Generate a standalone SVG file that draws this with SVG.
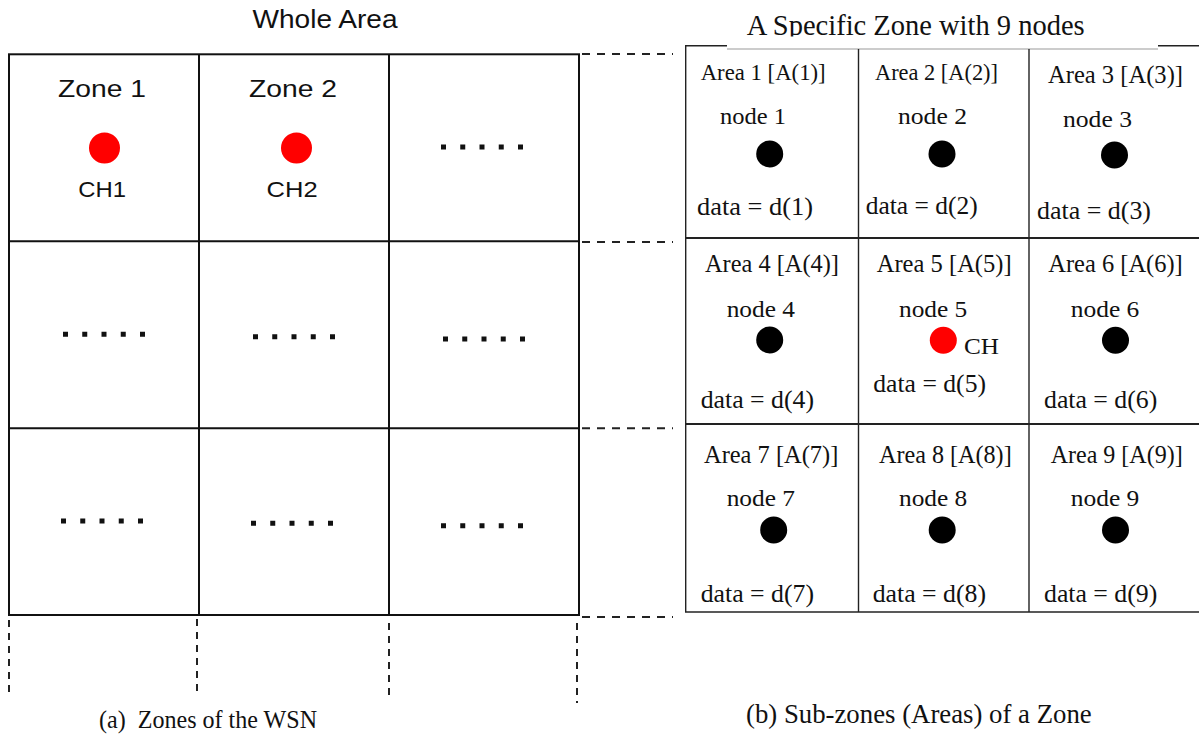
<svg xmlns="http://www.w3.org/2000/svg" width="1199" height="736" viewBox="0 0 1199 736">
  <style>
    .sans { font-family: "Liberation Sans", Arial, sans-serif; fill: #111; }
    .serif { font-family: "Liberation Serif", "Times New Roman", serif; fill: #111; }
    .grid { stroke: #111; stroke-width: 2; fill: none; }
    .sub { stroke: #222; stroke-width: 1.4; fill: none; }
    .subrow { stroke: #222; stroke-width: 2; fill: none; }
    .link { stroke: #222; stroke-width: 2; stroke-dasharray: 8 7; fill: none; }
    .drop { stroke: #222; stroke-width: 2; stroke-dasharray: 7 6; fill: none; }
    .dots { stroke: #111; stroke-width: 5; stroke-dasharray: 5 14.25; fill: none; }
    .ch { fill: #ff0000; }
    .sensor { fill: #000; }
  </style>
  <defs>
    <clipPath id="titleClip">
      <rect x="700" y="0" width="450" height="36.5"/>
    </clipPath>
  </defs>
  <rect width="1199" height="736" fill="#fff"/>

  <!-- (a) whole area split into zones -->
  <text class="sans" x="252.5" y="28.3" font-size="26" textLength="145" lengthAdjust="spacingAndGlyphs">Whole Area</text>
  <g id="zone-grid">
    <rect class="grid" x="9" y="54.3" width="570" height="560.7"/>
    <line class="grid" x1="199" y1="54.3" x2="199" y2="615"/>
    <line class="grid" x1="389" y1="54.3" x2="389" y2="615"/>
    <line class="grid" x1="9" y1="241.2" x2="579" y2="241.2"/>
    <line class="grid" x1="9" y1="428.3" x2="579" y2="428.3"/>
  </g>
  <g id="zone1">
    <text class="sans" x="58" y="96.5" font-size="24" textLength="88" lengthAdjust="spacingAndGlyphs">Zone 1</text>
    <circle class="ch" cx="104.5" cy="148" r="15.5"/>
    <text class="sans" x="78.3" y="197" font-size="22" textLength="47.7" lengthAdjust="spacingAndGlyphs">CH1</text>
  </g>
  <g id="zone2">
    <text class="sans" x="249" y="96.5" font-size="24" textLength="88" lengthAdjust="spacingAndGlyphs">Zone 2</text>
    <circle class="ch" cx="296.5" cy="148" r="15.5"/>
    <text class="sans" x="266.6" y="197" font-size="22" textLength="51" lengthAdjust="spacingAndGlyphs">CH2</text>
  </g>
  <g id="zone3"><line class="dots" x1="441" y1="147" x2="523" y2="147"/></g>
  <g id="zone4"><line class="dots" x1="63" y1="334.3" x2="145" y2="334.3"/></g>
  <g id="zone5"><line class="dots" x1="253" y1="336.7" x2="335" y2="336.7"/></g>
  <g id="zone6"><line class="dots" x1="443" y1="339" x2="525" y2="339"/></g>
  <g id="zone7"><line class="dots" x1="61" y1="521" x2="143" y2="521"/></g>
  <g id="zone8"><line class="dots" x1="251" y1="523.3" x2="333" y2="523.3"/></g>
  <g id="zone9"><line class="dots" x1="441" y1="525.7" x2="523" y2="525.7"/></g>
  <text class="serif" x="99" y="728.3" font-size="25.5" textLength="218" lengthAdjust="spacingAndGlyphs" xml:space="preserve">(a)  Zones of the WSN</text>

  <!-- dashed guide lines -->
  <g id="connectors">
    <line class="link" x1="582" y1="54" x2="673" y2="54"/>
    <line class="link" x1="582" y1="242" x2="673" y2="242"/>
    <line class="link" x1="582" y1="428.3" x2="673" y2="428.3"/>
    <line class="link" x1="582" y1="617" x2="673" y2="617"/>
    <line class="drop" x1="9" y1="620" x2="9" y2="693"/>
    <line class="drop" x1="197" y1="619" x2="197" y2="696"/>
    <line class="drop" x1="389" y1="623" x2="389" y2="700"/>
    <line class="drop" x1="577" y1="623" x2="577" y2="703"/>
  </g>

  <!-- (b) one zone split into nine areas -->
  <text class="serif" x="746.7" y="35" font-size="28.5" textLength="338" lengthAdjust="spacingAndGlyphs" clip-path="url(#titleClip)">A Specific Zone with 9 nodes</text>
  <g id="area-grid">
    <line class="sub" x1="685" y1="45.7" x2="727" y2="45.7"/>
    <line class="sub" x1="1158" y1="45.7" x2="1199" y2="45.7"/>
    <line stroke="#999" stroke-width="1" x1="727" y1="49" x2="1158" y2="49"/>
    <line class="sub" x1="685.7" y1="45" x2="685.7" y2="612"/>
    <line class="sub" x1="858.5" y1="49" x2="858.5" y2="612"/>
    <line class="sub" x1="1029" y1="49" x2="1029" y2="612"/>
    <line class="subrow" x1="685" y1="238" x2="1199" y2="238"/>
    <line class="subrow" x1="685" y1="424" x2="1199" y2="424"/>
    <line class="sub" x1="685" y1="612" x2="1199" y2="612"/>
  </g>

  <g id="area1">
    <text class="serif" x="700.7" y="80" font-size="23" textLength="125" lengthAdjust="spacingAndGlyphs">Area 1 [A(1)]</text>
    <text class="serif" x="720" y="124" font-size="24" textLength="66" lengthAdjust="spacingAndGlyphs">node 1</text>
    <circle class="sensor" cx="769.7" cy="154" r="13.5"/>
    <text class="serif" x="697" y="215" font-size="26" textLength="116" lengthAdjust="spacingAndGlyphs">data = d(1)</text>
  </g>
  <g id="area2">
    <text class="serif" x="875" y="80" font-size="23" textLength="123" lengthAdjust="spacingAndGlyphs">Area 2 [A(2)]</text>
    <text class="serif" x="898" y="124" font-size="24" textLength="69" lengthAdjust="spacingAndGlyphs">node 2</text>
    <circle class="sensor" cx="942" cy="154" r="13.5"/>
    <text class="serif" x="865.7" y="214.3" font-size="26" textLength="112" lengthAdjust="spacingAndGlyphs">data = d(2)</text>
  </g>
  <g id="area3">
    <text class="serif" x="1048" y="82.7" font-size="24.5" textLength="135" lengthAdjust="spacingAndGlyphs">Area 3 [A(3)]</text>
    <text class="serif" x="1063" y="127" font-size="24" textLength="69" lengthAdjust="spacingAndGlyphs">node 3</text>
    <circle class="sensor" cx="1114.5" cy="155" r="13.5"/>
    <text class="serif" x="1037" y="219.3" font-size="26" textLength="114" lengthAdjust="spacingAndGlyphs">data = d(3)</text>
  </g>
  <g id="area4">
    <text class="serif" x="705" y="271.7" font-size="24.5" textLength="134" lengthAdjust="spacingAndGlyphs">Area 4 [A(4)]</text>
    <text class="serif" x="726.7" y="317.3" font-size="24" textLength="68.3" lengthAdjust="spacingAndGlyphs">node 4</text>
    <circle class="sensor" cx="769.7" cy="340" r="13.5"/>
    <text class="serif" x="700.7" y="408.3" font-size="26" textLength="113.3" lengthAdjust="spacingAndGlyphs">data = d(4)</text>
  </g>
  <g id="area5">
    <text class="serif" x="876.7" y="271.7" font-size="24.5" textLength="135" lengthAdjust="spacingAndGlyphs">Area 5 [A(5)]</text>
    <text class="serif" x="899" y="317.3" font-size="24" textLength="68.3" lengthAdjust="spacingAndGlyphs">node 5</text>
    <circle class="ch" cx="943.3" cy="340.3" r="13.5"/>
    <text class="serif" x="964" y="354" font-size="23" textLength="35" lengthAdjust="spacingAndGlyphs">CH</text>
    <text class="serif" x="873.3" y="392.3" font-size="26" textLength="112.7" lengthAdjust="spacingAndGlyphs">data = d(5)</text>
  </g>
  <g id="area6">
    <text class="serif" x="1048.3" y="271.7" font-size="24.5" textLength="134.4" lengthAdjust="spacingAndGlyphs">Area 6 [A(6)]</text>
    <text class="serif" x="1070.7" y="317.3" font-size="24" textLength="68.6" lengthAdjust="spacingAndGlyphs">node 6</text>
    <circle class="sensor" cx="1115.5" cy="340.3" r="13.5"/>
    <text class="serif" x="1044" y="408.3" font-size="26" textLength="113.3" lengthAdjust="spacingAndGlyphs">data = d(6)</text>
  </g>
  <g id="area7">
    <text class="serif" x="704" y="462.7" font-size="24.5" textLength="134.3" lengthAdjust="spacingAndGlyphs">Area 7 [A(7)]</text>
    <text class="serif" x="726.7" y="506" font-size="24" textLength="68.3" lengthAdjust="spacingAndGlyphs">node 7</text>
    <circle class="sensor" cx="773.7" cy="530" r="13.5"/>
    <text class="serif" x="700.7" y="601.7" font-size="26" textLength="113.3" lengthAdjust="spacingAndGlyphs">data = d(7)</text>
  </g>
  <g id="area8">
    <text class="serif" x="879" y="462.7" font-size="24.5" textLength="132.7" lengthAdjust="spacingAndGlyphs">Area 8 [A(8)]</text>
    <text class="serif" x="899" y="506" font-size="24" textLength="68.3" lengthAdjust="spacingAndGlyphs">node 8</text>
    <circle class="sensor" cx="942.2" cy="530" r="13.5"/>
    <text class="serif" x="872.7" y="601.7" font-size="26" textLength="113.3" lengthAdjust="spacingAndGlyphs">data = d(8)</text>
  </g>
  <g id="area9">
    <text class="serif" x="1050.7" y="462.7" font-size="24.5" textLength="132" lengthAdjust="spacingAndGlyphs">Area 9 [A(9)]</text>
    <text class="serif" x="1070.7" y="506" font-size="24" textLength="68.6" lengthAdjust="spacingAndGlyphs">node 9</text>
    <circle class="sensor" cx="1115.5" cy="530" r="13.5"/>
    <text class="serif" x="1044" y="601.7" font-size="26" textLength="113.3" lengthAdjust="spacingAndGlyphs">data = d(9)</text>
  </g>
  <text class="serif" x="746" y="723.3" font-size="27" textLength="345.7" lengthAdjust="spacingAndGlyphs">(b) Sub-zones (Areas) of a Zone</text>
</svg>
